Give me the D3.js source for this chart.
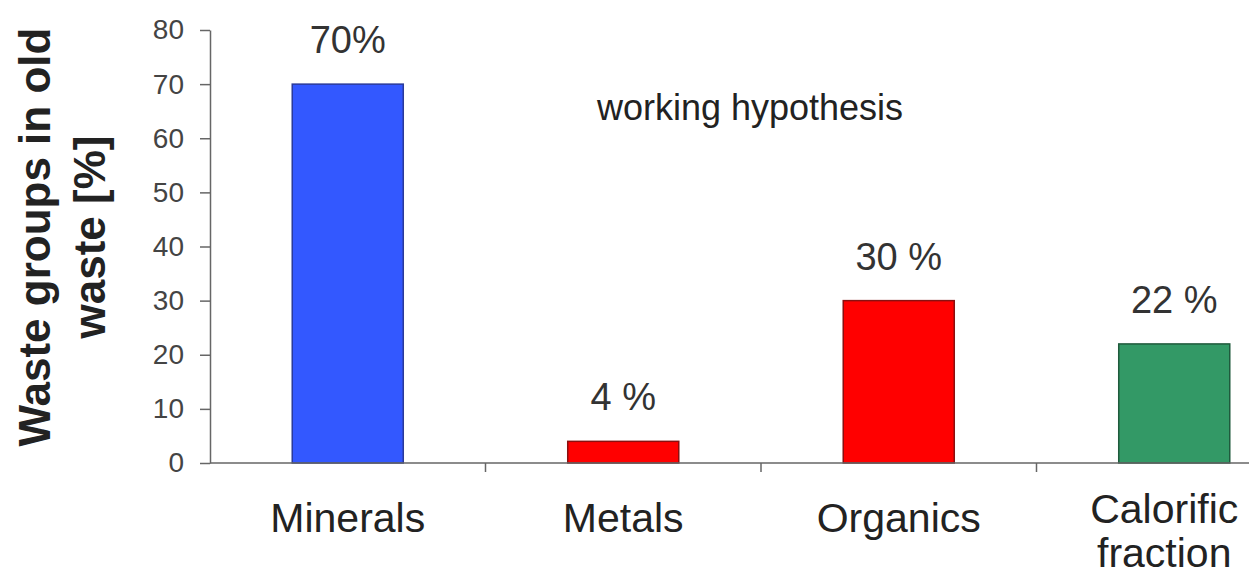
<!DOCTYPE html>
<html>
<head>
<meta charset="utf-8">
<script src="https://cdn.jsdelivr.net/npm/d3@7"></script>
<style>
  html, body { margin: 0; padding: 0; background: #fff; }
  svg { display: block; font-family: "Liberation Sans", Arial, sans-serif; }
</style>
</head>
<body>
<svg id="chart" width="1249" height="579"></svg>
<script>
// Waste group shares in old landfill waste
const categories = ["Minerals", "Metals", "Organics", "Calorific fraction"];
const shares = [70, 4, 30, 22];
const shareLabels = ["70%", "4 %", "30 %", "22 %"];
const barColors = ["#3358ff", "#ff0000", "#ff0000", "#339966"];
const barStrokes = ["#2a3a9a", "#8a1010", "#8a1010", "#1f5a3c"];
const yTicks = [0, 10, 20, 30, 40, 50, 60, 70, 80];
const yTitle = ["Waste groups in old", "waste [%]"];
const note = "working hypothesis";

const svg = d3.select("#chart");
const x0 = 210, yBase = 463, yTop = 30;

const x = d3.scaleBand()
  .domain(categories)
  .range([x0, x0 + 4 * 275.5])
  .paddingInner(0.597)
  .paddingOuter(0.2985);

const y = d3.scaleLinear().domain([0, 80]).range([yBase, yTop]);

// bars
svg.append("g").selectAll("rect")
  .data(categories)
  .join("rect")
  .attr("x", d => x(d))
  .attr("y", (d, i) => y(shares[i]))
  .attr("width", x.bandwidth())
  .attr("height", (d, i) => yBase - y(shares[i]))
  .attr("fill", (d, i) => barColors[i])
  .attr("stroke", (d, i) => barStrokes[i])
  .attr("stroke-width", 1.5);

// y axis
const yAxis = svg.append("g")
  .attr("transform", `translate(${x0},0)`)
  .call(d3.axisLeft(y).tickValues(yTicks).tickSize(10).tickPadding(16).tickSizeOuter(0));
yAxis.select(".domain").attr("stroke", "#666").attr("stroke-width", 1.5);
yAxis.selectAll(".tick line").attr("stroke", "#666").attr("stroke-width", 1.5);
yAxis.selectAll(".tick text")
  .attr("font-size", 28)
  .attr("fill", "#444")
  .attr("font-family", "Liberation Sans, Arial, sans-serif");

// x axis line with separators between categories
const xAxisG = svg.append("g").attr("transform", `translate(0,${yBase})`);
xAxisG.append("line")
  .attr("x1", x0).attr("x2", 1249)
  .attr("y1", 0).attr("y2", 0)
  .attr("stroke", "#666").attr("stroke-width", 1.5);
const step = x.step();
xAxisG.selectAll("line.sep")
  .data(categories.slice(1))
  .join("line")
  .attr("class", "sep")
  .attr("x1", d => x(d) - (step - x.bandwidth()) / 2)
  .attr("x2", d => x(d) - (step - x.bandwidth()) / 2)
  .attr("y1", 0).attr("y2", 9)
  .attr("stroke", "#666").attr("stroke-width", 1.5);

// category labels (two-line label sits a little higher)
svg.append("g").selectAll("text")
  .data(categories)
  .join("text")
  .attr("text-anchor", "middle")
  .attr("font-size", 41)
  .attr("fill", "#222")
  .each(function (d) {
    const words = d === "Calorific fraction" ? ["Calorific", "fraction"] : [d];
    const multi = words.length > 1;
    const cx = x(d) + x.bandwidth() / 2 + (multi ? -10 : 0);
    const t = d3.select(this);
    words.forEach((w, k) => {
      t.append("tspan")
        .attr("x", cx)
        .attr("y", yBase + (multi ? 60 : 69) + k * 44)
        .text(w);
    });
  });

// value labels above bars
svg.append("g").selectAll("text")
  .data(categories)
  .join("text")
  .attr("x", d => x(d) + x.bandwidth() / 2)
  .attr("y", (d, i) => y(shares[i]) - 31)
  .attr("text-anchor", "middle")
  .attr("font-size", 38)
  .attr("fill", "#333")
  .text((d, i) => shareLabels[i]);

// annotation
svg.append("text")
  .attr("x", 750).attr("y", 120)
  .attr("text-anchor", "middle")
  .attr("font-size", 36)
  .attr("fill", "#222")
  .text(note);

// y title, two rotated lines
const titleG = svg.append("g").attr("transform", "translate(0,237) rotate(-90)");
titleG.selectAll("text")
  .data(yTitle)
  .join("text")
  .attr("x", 0)
  .attr("y", (d, i) => 50 + i * 55)
  .attr("text-anchor", "middle")
  .attr("font-size", 44)
  .attr("font-weight", "bold")
  .attr("fill", "#222")
  .text(d => d);
</script>
</body>
</html>
